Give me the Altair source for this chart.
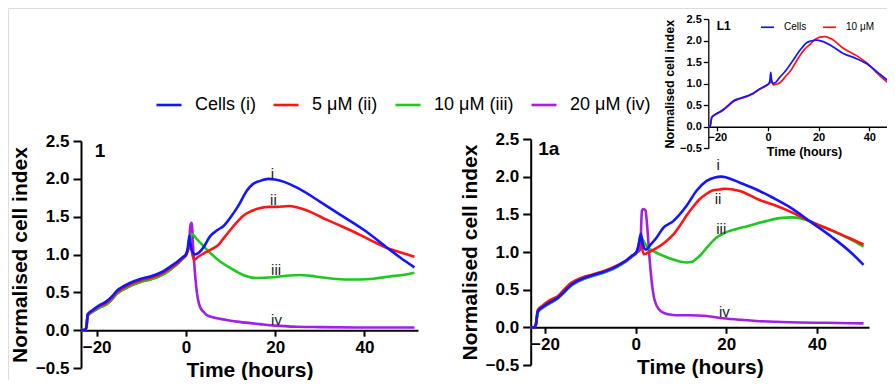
import altair as alt
import pandas as pd

FONT = "Liberation Sans"

# ---------------- data ----------------
main_names = ["Cells (i)", "5 μM (ii)", "10 μM (iii)", "20 μM (iv)"]
main_colors = ["#1414ff", "#ff1414", "#1ec81e", "#a020e6"]
inset_names = ["Cells", "10 μM"]
inset_colors = ["#1414ff", "#ff1414"]

# Panel 1
p1_cells_t = [-23.5, -22.7, -22.3, -22.0, -21.0, -19.3, -17.8, -16.5, -15.5, -14.3, -13.0, -11.5, -10.0, -8.0, -6.5, -5.0, -3.5, -2.0, -0.8, 0.0, 0.4, 0.8, 1.2, 2.0, 3.0, 4.0, 5.4, 7.0, 8.5, 10.6, 12.0, 13.6, 15.0, 16.5, 18.5, 20.0, 22.0, 25.0, 30.0, 35.0, 40.0, 45.3, 48.0, 51.2]
p1_cells_v = [0.0, 0.0, 0.04, 0.21, 0.26, 0.33, 0.38, 0.45, 0.52, 0.57, 0.61, 0.65, 0.68, 0.71, 0.74, 0.78, 0.84, 0.90, 0.96, 1.0, 1.08, 1.25, 1.08, 1.0, 1.03, 1.10, 1.24, 1.32, 1.38, 1.54, 1.67, 1.84, 1.93, 1.97, 2.0, 1.99, 1.96, 1.88, 1.70, 1.51, 1.32, 1.08, 0.96, 0.83]
p1_5_t = [-23.5, -22.7, -22.3, -22.0, -21.0, -19.3, -17.8, -16.5, -15.5, -14.3, -13.0, -11.5, -10.0, -8.0, -6.5, -5.0, -3.5, -2.0, -0.8, 0.0, 0.5, 0.9, 1.8, 3.0, 4.5, 6.1, 7.5, 8.4, 10.6, 12.8, 14.5, 16.5, 18.5, 20.5, 23.0, 25.0, 28.0, 31.5, 35.0, 39.0, 42.0, 45.3, 48.0, 51.2]
p1_5_v = [0.0, 0.0, 0.04, 0.20, 0.25, 0.32, 0.36, 0.43, 0.50, 0.55, 0.59, 0.63, 0.66, 0.69, 0.72, 0.76, 0.82, 0.88, 0.95, 0.99, 1.06, 1.14, 0.93, 0.98, 1.03, 1.08, 1.14, 1.21, 1.37, 1.51, 1.57, 1.61, 1.63, 1.63, 1.64, 1.62, 1.56, 1.46, 1.37, 1.26, 1.17, 1.08, 1.03, 0.97]
p1_10_t = [-23.5, -22.7, -22.3, -22.0, -21.0, -19.3, -17.8, -16.5, -15.5, -14.3, -13.0, -11.5, -10.0, -8.0, -6.5, -5.0, -3.5, -2.0, -0.8, 0.0, 0.6, 1.3, 2.5, 4.6, 7.6, 10.0, 12.8, 15.8, 19.6, 22.5, 25.5, 29.0, 33.0, 36.0, 39.0, 42.0, 45.7, 48.5, 51.2]
p1_10_v = [0.0, 0.0, 0.03, 0.19, 0.24, 0.30, 0.34, 0.41, 0.48, 0.53, 0.57, 0.61, 0.64, 0.67, 0.70, 0.74, 0.80, 0.87, 0.94, 0.99, 1.10, 1.27, 1.20, 1.07, 0.91, 0.82, 0.73, 0.69, 0.70, 0.72, 0.73, 0.71, 0.68, 0.67, 0.67, 0.68, 0.71, 0.73, 0.76]
p1_20_t = [-23.5, -22.7, -22.3, -22.0, -21.0, -19.3, -17.8, -16.5, -15.5, -14.3, -13.0, -11.5, -10.0, -8.0, -6.5, -5.0, -3.5, -2.0, -0.8, 0.0, 0.7, 1.0, 1.3, 1.65, 2.0, 2.4, 3.15, 4.0, 4.65, 6.0, 9.1, 12.0, 16.6, 20.0, 25.0, 30.0, 40.0, 51.2]
p1_20_v = [0.0, 0.0, 0.03, 0.19, 0.24, 0.30, 0.34, 0.41, 0.48, 0.53, 0.57, 0.61, 0.64, 0.67, 0.70, 0.74, 0.80, 0.87, 0.94, 0.99, 1.15, 1.38, 1.42, 1.06, 0.78, 0.53, 0.31, 0.24, 0.20, 0.17, 0.135, 0.11, 0.08, 0.06, 0.045, 0.04, 0.035, 0.035]

# Panel 1a
p2_cells_t = [-23.15, -22.4, -22.0, -21.6, -20.5, -18.9, -17.05, -15.8, -14.5, -13.0, -11.5, -9.5, -7.9, -6.0, -4.2, -2.0, -0.8, 0.2, 0.7, 1.15, 1.6, 2.3, 3.2, 4.6, 6.1, 8.3, 11.2, 13.4, 15.6, 17.5, 18.9, 20.0, 23.0, 27.35, 30.3, 34.7, 38.4, 43.5, 47.2, 50.3]
p2_cells_v = [0.0, 0.0, 0.04, 0.21, 0.27, 0.33, 0.40, 0.47, 0.55, 0.61, 0.65, 0.69, 0.72, 0.76, 0.81, 0.89, 0.95, 1.0, 1.10, 1.24, 1.10, 1.03, 1.09, 1.19, 1.32, 1.41, 1.61, 1.81, 1.94, 1.99, 2.0, 1.99, 1.92, 1.81, 1.72, 1.57, 1.41, 1.19, 1.01, 0.83]
p2_5_t = [-23.15, -22.4, -22.0, -21.6, -20.5, -18.9, -17.05, -15.8, -14.5, -13.0, -11.5, -9.5, -7.9, -6.0, -4.2, -2.0, -0.8, 0.2, 0.6, 1.0, 1.8, 3.0, 4.6, 6.5, 8.3, 10.0, 11.2, 12.7, 14.1, 15.6, 17.1, 18.5, 19.6, 21.5, 23.0, 27.35, 30.3, 34.7, 38.4, 43.5, 47.0, 50.3]
p2_5_v = [0.0, 0.0, 0.05, 0.23, 0.29, 0.36, 0.42, 0.50, 0.58, 0.63, 0.67, 0.70, 0.73, 0.77, 0.82, 0.89, 0.95, 1.0, 1.07, 1.16, 0.97, 1.0, 1.05, 1.13, 1.23, 1.37, 1.48, 1.60, 1.70, 1.77, 1.82, 1.83, 1.84, 1.83, 1.81, 1.69, 1.63, 1.52, 1.41, 1.28, 1.19, 1.10]
p2_10_t = [-23.15, -22.4, -22.0, -21.6, -20.5, -18.9, -17.05, -15.8, -14.5, -13.0, -11.5, -9.5, -7.9, -6.0, -4.2, -2.0, -0.8, 0.2, 0.6, 1.0, 1.5, 2.4, 4.6, 6.5, 8.3, 10.0, 11.2, 12.5, 13.4, 14.5, 15.6, 17.8, 19.5, 21.9, 24.4, 28.8, 31.8, 34.5, 36.2, 38.4, 40.0, 43.5, 47.0, 50.3]
p2_10_v = [0.0, 0.0, 0.03, 0.20, 0.26, 0.32, 0.39, 0.46, 0.54, 0.60, 0.64, 0.68, 0.71, 0.75, 0.80, 0.88, 0.94, 0.99, 1.08, 1.21, 1.17, 1.08, 0.99, 0.94, 0.90, 0.87, 0.86, 0.87, 0.91, 0.97, 1.05, 1.19, 1.25, 1.30, 1.34, 1.41, 1.45, 1.46, 1.45, 1.41, 1.37, 1.28, 1.18, 1.07]
p2_20_t = [-23.15, -22.4, -22.0, -21.6, -20.5, -18.9, -17.05, -15.8, -14.5, -13.0, -11.5, -9.5, -7.9, -6.0, -4.2, -2.0, -0.8, 0.2, 1.0, 1.4, 1.7, 2.2, 2.4, 3.1, 3.6, 4.2, 5.3, 6.3, 7.5, 9.0, 11.9, 15.6, 19.3, 23.0, 26.6, 34.0, 42.0, 50.3]
p2_20_v = [0.0, 0.0, 0.03, 0.20, 0.26, 0.32, 0.39, 0.46, 0.54, 0.60, 0.64, 0.68, 0.71, 0.75, 0.80, 0.88, 0.94, 0.99, 1.03, 1.55, 1.57, 1.55, 1.45, 0.90, 0.58, 0.36, 0.23, 0.19, 0.17, 0.16, 0.16, 0.15, 0.12, 0.10, 0.085, 0.067, 0.06, 0.053]

# Inset L1
in_cells_t = [-23.55, -22.8, -22.2, -21.0, -19.5, -17.6, -15.5, -13.7, -11.0, -8.4, -6.0, -3.2, -1.0, 0.1, 0.7, 1.1, 1.6, 2.5, 4.7, 7.4, 10.0, 12.7, 15.3, 17.0, 19.2, 21.5, 25.0, 29.75, 35.0, 39.0, 44.2, 50.1]
in_cells_v = [0.0, 0.02, 0.22, 0.28, 0.33, 0.40, 0.51, 0.60, 0.66, 0.71, 0.77, 0.88, 0.95, 0.99, 1.05, 1.26, 1.02, 1.01, 1.15, 1.33, 1.55, 1.78, 1.95, 1.99, 2.01, 1.98, 1.88, 1.70, 1.58, 1.46, 1.22, 0.94]
in_10_t = [-23.55, -22.8, -22.2, -21.0, -19.5, -17.6, -15.5, -13.7, -11.0, -8.4, -6.0, -3.2, -1.0, 0.1, 0.8, 1.3, 2.1, 3.5, 4.7, 7.4, 8.7, 10.5, 12.7, 14.5, 16.6, 18.5, 20.5, 22.5, 25.0, 29.75, 35.0, 39.0, 44.2, 50.1]
in_10_v = [0.0, 0.02, 0.21, 0.27, 0.32, 0.39, 0.49, 0.58, 0.65, 0.70, 0.76, 0.87, 0.94, 0.98, 1.02, 1.08, 0.97, 0.99, 1.02, 1.20, 1.28, 1.45, 1.66, 1.80, 1.91, 2.02, 2.08, 2.09, 2.04, 1.82, 1.65, 1.48, 1.18, 0.89]

# Annotations (data coordinates)
p1_lab_text = ["i", "ii", "iii", "iv"]
p1_lab_t = [19.4, 19.6, 20.2, 20.3]
p1_lab_v = [2.06, 1.72, 0.80, 0.14]
p2_lab_text = ["i", "ii", "iii", "iv"]
p2_lab_t = [18.2, 18.2, 18.9, 19.6]
p2_lab_v = [2.16, 1.70, 1.31, 0.21]
panel_titles = ["1", "1a", "L1"]
panel_title_t = [-20.4, -21.5, -20.2]
panel_title_v = [2.37, 2.37, 2.34]

y_ticks = [-0.5, 0.0, 0.5, 1.0, 1.5, 2.0, 2.5]
x_ticks = [-20, 0, 20, 40]


def long_df(pairs, names):
    rows = []
    for name, (ts, vs) in zip(names, pairs):
        for t, v in zip(ts, vs):
            rows.append({"series": name, "t": t, "v": v})
    return pd.DataFrame(rows)


# draw order: purple, green, red, blue (blue on top)
p1_df = long_df([(p1_20_t, p1_20_v), (p1_10_t, p1_10_v), (p1_5_t, p1_5_v), (p1_cells_t, p1_cells_v)], main_names[::-1])
p2_df = long_df([(p2_20_t, p2_20_v), (p2_10_t, p2_10_v), (p2_5_t, p2_5_v), (p2_cells_t, p2_cells_v)], main_names[::-1])
in_df = long_df([(in_10_t, in_10_v), (in_cells_t, in_cells_v)], inset_names[::-1])

W, H = 879, 372


def make_panel(df, lab_text, lab_t, lab_v, title, title_t, title_v, xdom, xr, yr,
               big=True, legend=None, names=None, colors=None):
    y0 = yr[0] + (0 - (-0.5)) / 3.0 * (yr[1] - yr[0])
    fs_lab = 17 if big else 11
    fs_title = 21 if big else 12.5
    sw = 2.0 if big else 1.3
    xax = alt.Axis(orient="bottom", offset=y0 - H, values=x_ticks, title="Time (hours)",
                   titleFont=FONT, titleFontSize=fs_title, titleFontWeight="bold", titleColor="black",
                   titlePadding=4 if big else 3,
                   labelFont=FONT, labelFontSize=fs_lab, labelFontWeight="bold", labelColor="black",
                   labelPadding=3 if big else 1, tickSize=6 if big else 4, tickWidth=sw,
                   domainWidth=sw, domainColor="black", tickColor="black", grid=False,
                   labelFlush=False, labelOverlap=False)
    yax = alt.Axis(orient="left", offset=-xr[0], values=y_ticks, format=".1f",
                   title="Normalised cell index",
                   titleFont=FONT, titleFontSize=fs_title, titleFontWeight="bold", titleColor="black",
                   titlePadding=5 if big else 3,
                   labelFont=FONT, labelFontSize=fs_lab, labelFontWeight="bold", labelColor="black",
                   labelPadding=4 if big else 2, tickSize=8 if big else 5, tickWidth=sw,
                   domainWidth=sw, domainColor="black", tickColor="black", grid=False,
                   labelFlush=False, labelOverlap=False)
    xenc = alt.X("t:Q", scale=alt.Scale(domain=xdom, range=xr, nice=False, zero=False), axis=xax)
    yenc = alt.Y("v:Q", scale=alt.Scale(domain=[-0.5, 2.5], range=yr, nice=False, zero=False), axis=yax)
    color = alt.Color("series:N", scale=alt.Scale(domain=names, range=colors), legend=legend)
    lines = alt.Chart(df).mark_line(strokeWidth=2.6 if big else 1.7, interpolate="monotone").encode(
        x=xenc, y=yenc, color=color, order=alt.Order("t:Q"))
    layers = [lines]
    if lab_text:
        ldf = pd.DataFrame({"t": lab_t, "v": lab_v, "label": lab_text})
        layers.append(alt.Chart(ldf).mark_text(font=FONT, fontSize=15, color="#222222",
                                               align="center", baseline="middle").encode(
            x=xenc, y=yenc, text="label:N"))
    tdf = pd.DataFrame({"t": [title_t], "v": [title_v], "label": [title]})
    layers.append(alt.Chart(tdf).mark_text(font=FONT, fontSize=19 if big else 12, fontWeight="bold",
                                           color="black", align="left", baseline="middle").encode(
        x=xenc, y=yenc, text="label:N"))
    return alt.layer(*layers)


main_legend = alt.Legend(orient="none", legendX=147, legendY=83, direction="horizontal", title=None,
                         symbolType="stroke", symbolSize=625, symbolStrokeWidth=2.6,
                         labelFont=FONT, labelFontSize=18, labelColor="black", labelOffset=12,
                         columnPadding=12, padding=0, labelLimit=0)
inset_legend = alt.Legend(orient="none", legendX=752, legendY=11.5, direction="horizontal", title=None,
                          symbolType="stroke", symbolSize=169, symbolStrokeWidth=1.7,
                          labelFont=FONT, labelFontSize=10, labelColor="black", labelOffset=9,
                          columnPadding=12, padding=0, labelLimit=0)

panel1 = make_panel(p1_df, p1_lab_text, p1_lab_t, p1_lab_v, panel_titles[0], panel_title_t[0], panel_title_v[0],
                    [-23.5, 52.0], [73, 410], [360, 133], True, main_legend, main_names, main_colors)
panel2 = make_panel(p2_df, p2_lab_text, p2_lab_t, p2_lab_v, panel_titles[1], panel_title_t[1], panel_title_v[1],
                    [-23.15, 51.5], [522.7, 861], [357, 131], True, None, main_names, main_colors)
inset = make_panel(in_df, [], [], [], panel_titles[2], panel_title_t[2], panel_title_v[2],
                   [-23.55, 52.0], [700.3, 891.7], [140.3, 11], False, inset_legend, inset_names, inset_colors)

chart = alt.layer(panel1, panel2, inset).resolve_scale(
    x="independent", y="independent", color="independent"
).properties(
    width=W, height=H, padding=0, autosize=alt.AutoSizeParams(type="none")
).configure_view(stroke="transparent", strokeWidth=0).configure(background="white")

chart.save("out.html", embed_options={"renderer": "svg", "actions": False})
